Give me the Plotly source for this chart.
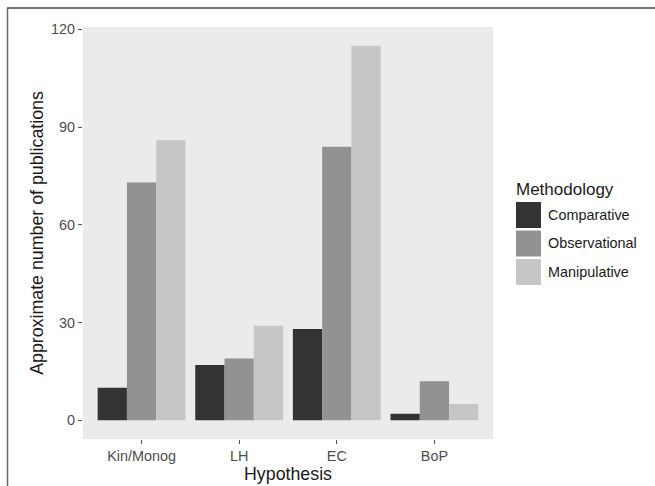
import plotly.graph_objects as go

hypotheses = ["Kin/Monog", "LH", "EC", "BoP"]
methods = ["Comparative", "Observational", "Manipulative"]
comparative = [10, 17, 28, 2]
observational = [73, 19, 84, 12]
manipulative = [86, 29, 115, 5]
series = [comparative, observational, manipulative]
colors = ["#333333", "#929292", "#c6c6c6"]
y_ticks = [0, 30, 60, 90, 120]

W, H = 655, 486
L, R, T, B = 83, 162, 27, 47
pw, ph = W - L - R, H - T - B

def px(x):
    return (x - L) / pw

def py(y):
    return (H - B - y) / ph

fig = go.Figure()
for name, vals, col in zip(methods, series, colors):
    fig.add_trace(go.Bar(x=hypotheses, y=vals, name=name, marker=dict(color=col, line=dict(width=0)),
                         showlegend=False))

font = "Liberation Sans, Arial, sans-serif"
fig.update_layout(
    width=W, height=H,
    margin=dict(l=L, r=R, t=T, b=B),
    paper_bgcolor="white",
    plot_bgcolor="#EBEBEB",
    barmode="group", bargap=0.1, bargroupgap=0,
    font=dict(family=font),
    xaxis=dict(range=[-0.6, 3.6], showgrid=False, zeroline=False, ticks="outside", ticklen=4,
               tickcolor="#555555", tickwidth=1, tickfont=dict(size=14.4, color="#4D4D4D"),
               title=dict(text="Hypothesis", font=dict(size=17.8, color="#1a1a1a"), standoff=2),
               automargin=False),
    yaxis=dict(range=[-5.75, 120.75], tickvals=y_ticks, showgrid=False, zeroline=False,
               ticks="outside", ticklen=4, tickcolor="#555555", tickwidth=1,
               tickfont=dict(size=14.4, color="#4D4D4D"),
               title=dict(text="Approximate number of publications", font=dict(size=17.8, color="#1a1a1a"),
                          standoff=2),
               automargin=False),
)

# manual legend (ggplot-style large keys)
shapes = []
annotations = [dict(text="Methodology", x=px(514), y=py(189), xref="paper", yref="paper",
                    xanchor="left", yanchor="middle", showarrow=False,
                    font=dict(size=17, color="#1a1a1a"))]
key_top = 202
for i, (name, col) in enumerate(zip(methods, colors)):
    y0 = key_top + i * 28.5
    shapes.append(dict(type="rect", xref="paper", yref="paper", x0=px(516), x1=px(541),
                       y0=py(y0), y1=py(y0 + 26), fillcolor=col, line=dict(width=0)))
    annotations.append(dict(text=name, x=px(546), y=py(y0 + 13), xref="paper", yref="paper",
                            xanchor="left", yanchor="middle", showarrow=False,
                            font=dict(size=14.4, color="#1a1a1a")))

# frame lines of the original image
shapes.append(dict(type="line", xref="paper", yref="paper", x0=px(7), x1=px(W), y0=py(8), y1=py(8),
                   line=dict(color="#444444", width=1.5)))
shapes.append(dict(type="line", xref="paper", yref="paper", x0=px(7.5), x1=px(7.5), y0=py(8), y1=py(H),
                   line=dict(color="#666666", width=1.5)))

fig.update_layout(shapes=shapes, annotations=annotations)
fig.write_html("out.html", config={"displayModeBar": False},
               post_script="document.body.style.margin='0';document.body.style.padding='0';")
